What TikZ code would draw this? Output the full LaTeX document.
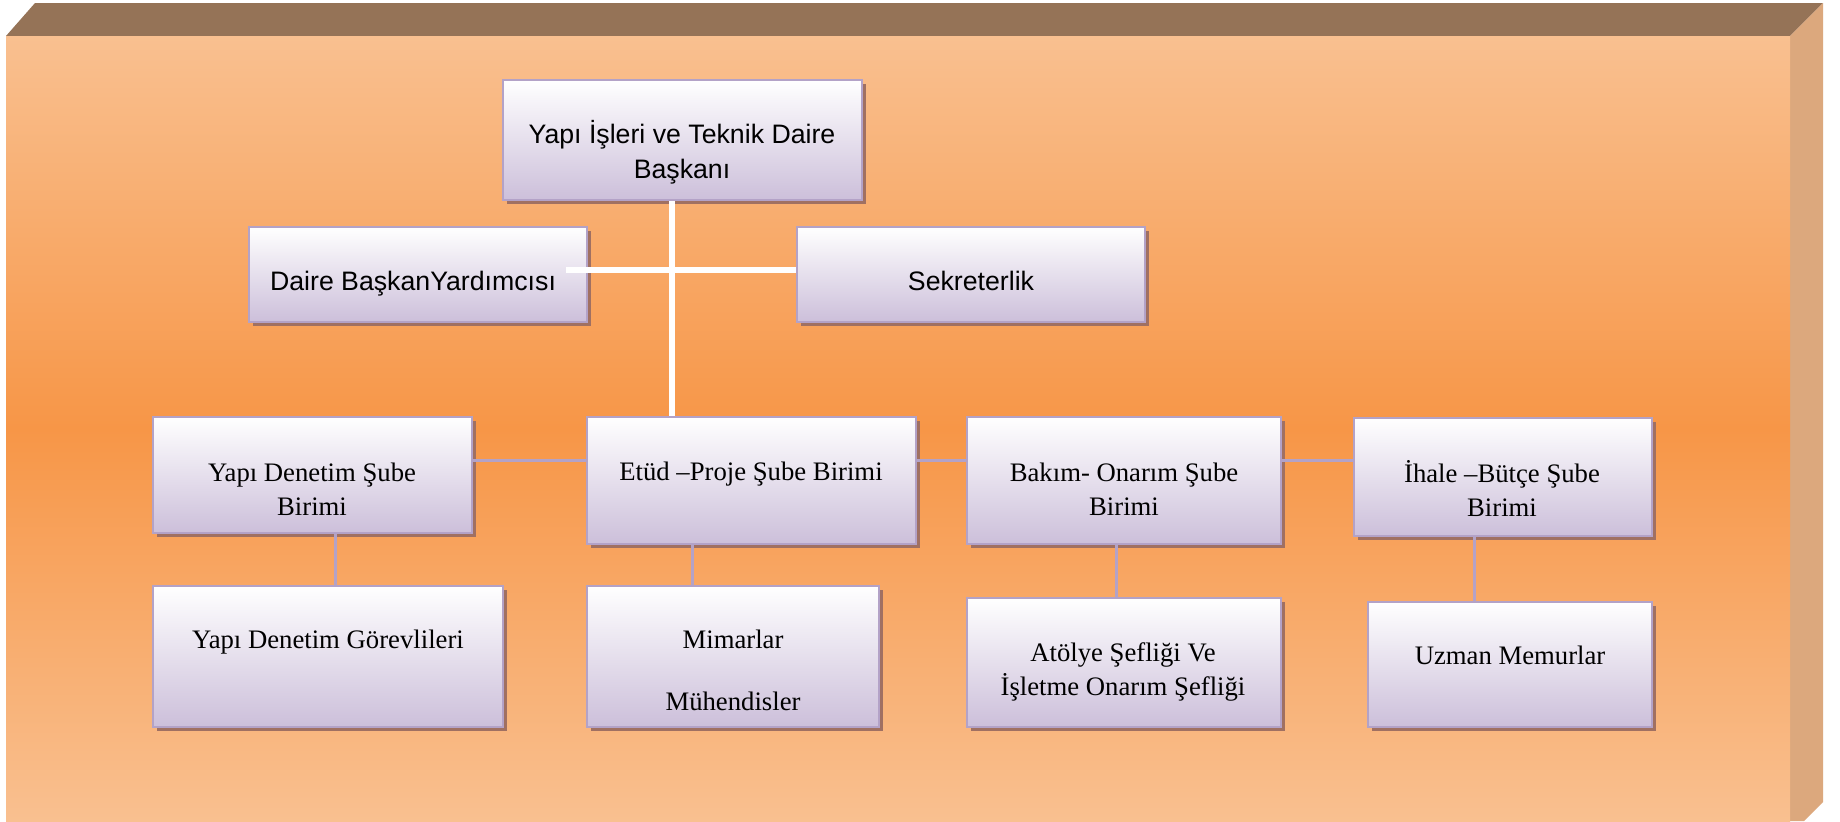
\documentclass[tikz,border=0pt]{standalone}
\usepackage{fontspec}
\setmainfont{Liberation Serif}
\newfontfamily\arialf{Liberation Sans}
\usetikzlibrary{shadows,fit}
\definecolor{bevtop}{RGB}{149,115,87}
\definecolor{bevside}{RGB}{220,168,125}
\definecolor{bgl}{RGB}{249,192,144}
\definecolor{bgo}{RGB}{247,150,71}
\definecolor{boxbot}{RGB}{204,191,218}
\definecolor{boxedge}{RGB}{179,162,199}
\definecolor{shadowc}{RGB}{160,112,98}
\pgfdeclareverticalshading{bgshade}{100bp}{color(0bp)=(bgl); color(25bp)=(bgl); color(50bp)=(bgo); color(75bp)=(bgl); color(100bp)=(bgl)}
\tikzset{
  orgbox/.style={draw=boxedge, line width=1.2pt, top color=white, bottom color=boxbot,
    inner sep=0pt, drop shadow={shadow xshift=2pt, shadow yshift=-2pt, fill=shadowc, opacity=1}},
  lab/.style={anchor=base, align=center, inner sep=0pt, text=black},
  sanslab/.style={lab, font=\arialf\fontsize{13.35pt}{17.5pt}\selectfont},
  seriflab/.style={lab, font=\fontsize{13.35pt}{17pt}\selectfont},
  whiteline/.style={draw=white, line width=3pt},
  lavline/.style={draw=boxedge, line width=1.5pt}
}
\begin{document}
\begin{tikzpicture}[x=0.5pt,y=-0.5pt]
\useasboundingbox (0,0) rectangle (1840,821);
% background block
\fill[white] (0,0) rectangle (1840,821);
\fill[bevtop] (35,3) -- (1823,3) -- (1790,36) -- (6,36) -- cycle;
\fill[bevside] (1790,36) -- (1823,3) -- (1823,802) -- (1804,821) -- (1790,821) -- cycle;
\shade[shading=bgshade] (6,36) rectangle (1790,821);
% boxes
\node[orgbox, fit={(503,80) (862,200)}] (top) {};
\node[orgbox, fit={(249,227) (587,322)}] (dby) {};
\node[orgbox, fit={(797,227) (1145,322)}] (sek) {};
\node[orgbox, fit={(153,417) (472,533)}] (yds) {};
\node[orgbox, fit={(587,417) (916,544)}] (etud) {};
\node[orgbox, fit={(967,417) (1281,544)}] (bakim) {};
\node[orgbox, fit={(1354,418) (1652,536)}] (ihale) {};
\node[orgbox, fit={(153,586) (503,727)}] (ydg) {};
\node[orgbox, fit={(587,586) (879,727)}] (mim) {};
\node[orgbox, fit={(967,598) (1281,727)}] (atol) {};
\node[orgbox, fit={(1368,602) (1652,727)}] (uzm) {};
% texts (base anchor = baseline of the last line)
\node[sanslab] (ttop) at (682,178) {Yapı İşleri ve Teknik Daire\\Başkanı};
\node[sanslab] (tdby) at (413,290) {Daire BaşkanYardımcısı};
\node[sanslab] (tsek) at (971,290) {Sekreterlik};
\node[seriflab] (tyds) at (312,515) {Yapı Denetim Şube\\Birimi};
\node[seriflab] (tetud) at (751,480) {Etüd –Proje Şube Birimi};
\node[seriflab] (tbak) at (1124,515) {Bakım- Onarım Şube\\Birimi};
\node[seriflab] (tiha) at (1502,516) {İhale –Bütçe Şube\\Birimi};
\node[seriflab] (tydg) at (328,648) {Yapı Denetim Görevlileri};
\node[seriflab] (tmim) at (733,710) {Mimarlar\\[14pt]Mühendisler};
\node[seriflab] (tatol) at (1123,695) {Atölye Şefliği Ve\\İşletme Onarım Şefliği};
\node[seriflab] (tuzm) at (1510,664) {Uzman Memurlar};
% connector helper coordinates
\coordinate (wl) at (566,270);
\coordinate (vx) at (672,0);
\coordinate (hy) at (0,460);
\coordinate (c1) at (335,0);
\coordinate (c2) at (692,0);
\coordinate (c3) at (1116,0);
\coordinate (c4) at (1474,0);
% white connectors
\draw[whiteline] (top.south -| vx) -- (etud.north -| vx);
\draw[whiteline] (wl) -- (wl -| sek.west);
% lavender connectors
\draw[lavline] (yds.east |- hy) -- (etud.west |- hy);
\draw[lavline] (etud.east |- hy) -- (bakim.west |- hy);
\draw[lavline] (bakim.east |- hy) -- (ihale.west |- hy);
\draw[lavline] (yds.south -| c1) -- (ydg.north -| c1);
\draw[lavline] (etud.south -| c2) -- (mim.north -| c2);
\draw[lavline] (bakim.south -| c3) -- (atol.north -| c3);
\draw[lavline] (ihale.south -| c4) -- (uzm.north -| c4);
\end{tikzpicture}
\end{document}
